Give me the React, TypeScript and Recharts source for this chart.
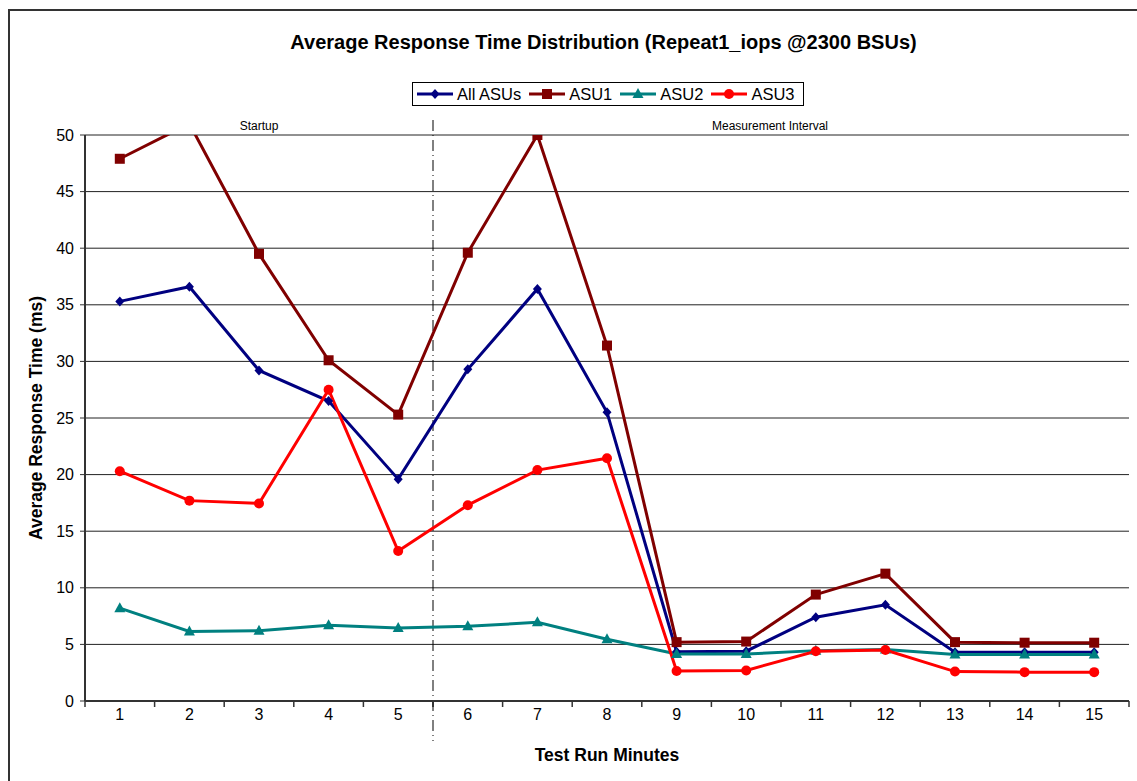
import React from 'react'
import { LineChart, Line, XAxis, YAxis, CartesianGrid, ReferenceLine, ReferenceArea } from 'recharts'

const minutes = [1, 2, 3, 4, 5, 6, 7, 8, 9, 10, 11, 12, 13, 14, 15]
const allAsus = [35.3, 36.6, 29.2, 26.5, 19.6, 29.3, 36.4, 25.5, 4.35, 4.4, 7.4, 8.5, 4.3, 4.3, 4.3]
const asu1 = [47.9, 51.0, 39.5, 30.1, 25.3, 39.6, 50.0, 31.4, 5.2, 5.25, 9.4, 11.25, 5.2, 5.15, 5.15]
const asu2 = [8.2, 6.15, 6.2, 6.7, 6.45, 6.6, 6.95, 5.45, 4.15, 4.15, 4.45, 4.55, 4.1, 4.1, 4.1]
const asu3 = [20.3, 17.7, 17.45, 27.5, 13.25, 17.3, 20.4, 21.45, 2.65, 2.7, 4.4, 4.5, 2.6, 2.55, 2.55]
const yTicks = [0, 5, 10, 15, 20, 25, 30, 35, 40, 45, 50]
const startupEnd = 5

const data = minutes.map((m, i) => ({
  minute: m,
  all: allAsus[i],
  asu1: asu1[i],
  asu2: asu2[i],
  asu3: asu3[i]
}))

const FONT = '"Liberation Sans", Arial, sans-serif'

type Shape = 'diamond' | 'square' | 'triangle' | 'circle'

const Marker = ({ cx, cy, shape, color }: { cx: number, cy: number, shape: Shape, color: string }) => {
  if (shape === 'diamond') {
    return <polygon points={`${cx},${cy - 5} ${cx + 4.5},${cy} ${cx},${cy + 5} ${cx - 4.5},${cy}`} fill={color} />
  }
  if (shape === 'square') {
    return <rect x={cx - 5} y={cy - 5} width={10} height={10} fill={color} />
  }
  if (shape === 'triangle') {
    return <polygon points={`${cx},${cy - 6} ${cx + 5.5},${cy + 4} ${cx - 5.5},${cy + 4}`} fill={color} />
  }
  return <circle cx={cx} cy={cy} r={5} fill={color} />
}

const series = [
  { key: 'all', name: 'All ASUs', color: '#000080', shape: 'diamond' as Shape },
  { key: 'asu1', name: 'ASU1', color: '#800000', shape: 'square' as Shape },
  { key: 'asu2', name: 'ASU2', color: '#008080', shape: 'triangle' as Shape },
  { key: 'asu3', name: 'ASU3', color: '#FF0000', shape: 'circle' as Shape }
]

// tick marks sit between the minutes, like the original
const boundaries = [...minutes.map(m => m - 0.5), minutes[minutes.length - 1] + 0.5]

const ChartLegend = () => (
  <div style={{
    position: 'absolute', left: 412, top: 82, width: 392, height: 24,
    border: '1px solid #000', display: 'flex', alignItems: 'center',
    fontFamily: FONT, fontSize: 16.5, boxSizing: 'border-box', paddingLeft: 3
  }}>
    {series.map(s => (
      <div key={s.key} style={{ display: 'flex', alignItems: 'center', marginRight: 7 }}>
        <svg width={38} height={14}>
          <line x1={1} y1={7} x2={37} y2={7} stroke={s.color} strokeWidth={3} />
          <Marker cx={19} cy={7} shape={s.shape} color={s.color} />
        </svg>
        <span style={{ marginLeft: 3 }}>{s.name}</span>
      </div>
    ))}
  </div>
)

const App = () => {
  return (
    <div style={{ position: 'absolute', left: 0, top: 0, width: 1137, height: 781, overflow: 'hidden', background: '#fff' }}>
      <div style={{
        position: 'absolute', left: 8, top: 9, width: 1200, height: 900,
        borderLeft: '2px solid #333', borderTop: '2px solid #333'
      }} />
      <div style={{
        position: 'absolute', left: 0, top: 31, width: 1207, textAlign: 'center',
        fontFamily: FONT, fontWeight: 'bold', fontSize: 20
      }}>
        Average Response Time Distribution (Repeat1_iops @2300 BSUs)
      </div>
      <ChartLegend />
      <div style={{ position: 'absolute', left: 0, top: 0 }}>
        <LineChart
          width={1137}
          height={781}
          data={data}
          margin={{ top: 135, right: 8, left: 25, bottom: 50 }}
        >
          <CartesianGrid vertical={false} stroke="#222" strokeWidth={1} />
          <XAxis
            dataKey="minute"
            type="number"
            domain={[0.5, 15.5]}
            ticks={minutes}
            allowDataOverflow
            height={30}
            tickLine={false}
            tickMargin={2}
            axisLine={{ stroke: '#333', strokeWidth: 2 }}
            tick={{ fill: '#000', fontSize: 16, fontFamily: FONT }}
            label={{ value: 'Test Run Minutes', position: 'bottom', offset: 18, style: { fill: '#000', fontWeight: 'bold', fontSize: 17.5, fontFamily: FONT } }}
          />
          <YAxis
            domain={[0, 50]}
            ticks={yTicks}
            allowDataOverflow
            width={60}
            tickSize={5}
            tickMargin={6}
            axisLine={{ stroke: '#333', strokeWidth: 2 }}
            tickLine={{ stroke: '#333' }}
            tick={{ fill: '#000', fontSize: 16, fontFamily: FONT }}
            label={{
              content: (p: any) => {
                const { x, y, height } = p.viewBox
                const cx = x + 11
                const cy = y + height / 2
                return (
                  <text x={cx} y={cy} transform={`rotate(-90 ${cx} ${cy})`} textAnchor="middle" dominantBaseline="central"
                    style={{ fontWeight: 'bold', fontSize: 17.5, fontFamily: FONT, fill: '#000' }}>
                    Average Response Time (ms)
                  </text>
                )
              }
            }}
          />
          <YAxis yAxisId="frame" orientation="right" width={0} tick={false} axisLine={{ stroke: '#999', strokeWidth: 2 }} />
          {boundaries.map(b => (
            <ReferenceLine
              key={b}
              x={b}
              ifOverflow="visible"
              shape={(p: any) => {
                const bottom = Math.max(p.y1, p.y2)
                return <line x1={p.x1} x2={p.x1} y1={bottom} y2={bottom + 6} stroke="#333" strokeWidth={1.5} />
              }}
            />
          ))}
          <ReferenceArea x1={0.5} x2={startupEnd + 0.5} fill="none" fillOpacity={0} ifOverflow="visible"
            label={{ value: 'Startup', position: 'top', offset: 5, style: { fontSize: 12, fontFamily: FONT, fill: '#000' } }} />
          <ReferenceArea x1={startupEnd + 0.5} x2={15.5} fill="none" fillOpacity={0} ifOverflow="visible"
            label={{ value: 'Measurement Interval', position: 'top', offset: 5, dx: -11, style: { fontSize: 12, fontFamily: FONT, fill: '#000' } }} />
          <ReferenceLine
            x={startupEnd + 0.5}
            ifOverflow="visible"
            shape={(p: any) => {
              const top = Math.min(p.y1, p.y2)
              const bottom = Math.max(p.y1, p.y2)
              return <line x1={p.x1} x2={p.x1} y1={top - 15} y2={bottom + 40} stroke="#000" strokeWidth={1} strokeDasharray="11 4 1 4" />
            }}
          />
          {series.map(s => (
            <Line
              key={s.key}
              dataKey={s.key}
              name={s.name}
              stroke={s.color}
              strokeWidth={3}
              isAnimationActive={false}
              dot={(p: any) => <Marker key={`${s.key}-${p.index}`} cx={p.cx} cy={p.cy} shape={s.shape} color={s.color} />}
              activeDot={false}
            />
          ))}
        </LineChart>
      </div>
    </div>
  )
}

export default App
